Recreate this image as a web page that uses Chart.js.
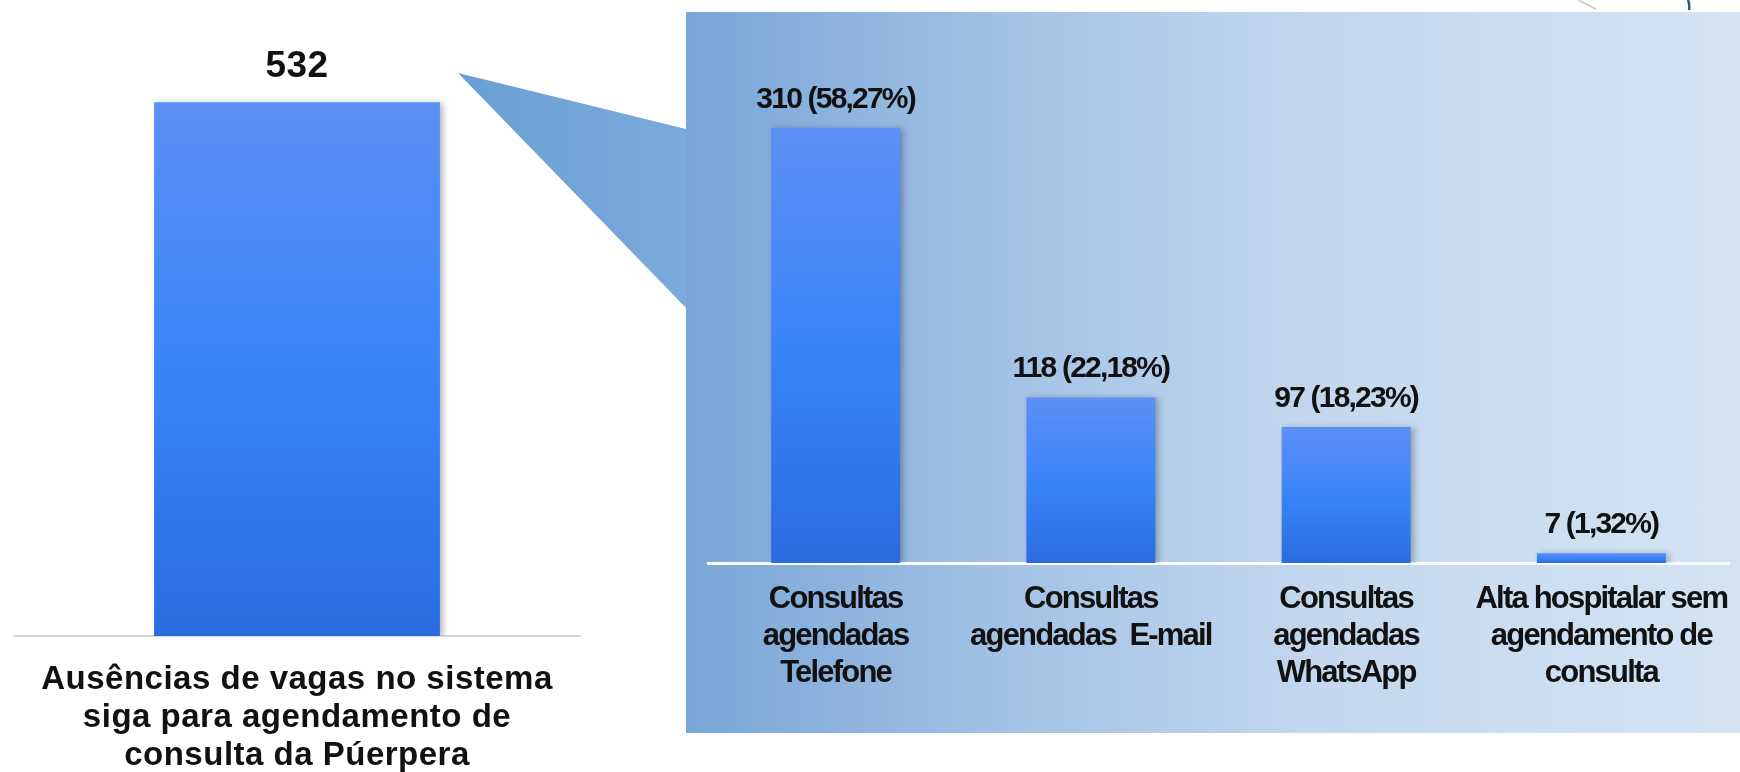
<!DOCTYPE html>
<html>
<head>
<meta charset="utf-8">
<script src="https://cdn.jsdelivr.net/npm/chart.js@4/dist/chart.umd.min.js"></script>
<style>
  html, body { margin: 0; padding: 0; background: #fff; }
  #wrap { position: relative; width: 1740px; height: 772px; overflow: hidden; }
  #panel {
    position: absolute; left: 686px; top: 12px; width: 1054px; height: 721px;
    background: linear-gradient(to right, #79a6d7 0%, #a6c4e6 33%, #c3d8ee 60%, #d3e3f4 100%);
  }
  #callout {
    position: absolute; left: 0; top: 0; width: 1740px; height: 772px;
    background: linear-gradient(to right, #6b9fd4 0%, #6b9fd4 460px, #7caad9 690px);
    clip-path: polygon(458px 73px, 690px 130px, 690px 312px);
  }
  canvas { position: absolute; left: 0; top: 0; }
  #deco { position: absolute; left: 0; top: 0; }
</style>
</head>
<body>
<div id="wrap">
  <div id="callout"></div>
  <div id="panel"></div>
  <svg id="deco" width="1740" height="20">
    <line x1="1578" y1="0" x2="1596" y2="9" stroke="#c8c8c8" stroke-width="1.5"/>
    <path d="M1688 0 Q1690 5 1689 10" stroke="#1f5f73" stroke-width="2.5" fill="none"/>
  </svg>
  <canvas id="leftChart" width="1740" height="772"></canvas>
  <canvas id="rightChart" width="1740" height="772"></canvas>
</div>
<script>
// left bar: total
var totalLabels = [["Ausências de vagas no sistema", "siga para agendamento de", "consulta da Púerpera"]];
var totalValues = [532];

// right bars: breakdown
var breakLabels = [
    ["Consultas", "agendadas", "Telefone"],
    ["Consultas", "agendadas  E-mail"],
    ["Consultas", "agendadas", "WhatsApp"],
    ["Alta hospitalar sem", "agendamento de", "consulta"],
];
var breakValues = [310, 118, 97, 7];
var breakPercents = ["58,27%", "22,18%", "18,23%", "1,32%"];

var fontFamily = "'Liberation Sans', Arial, sans-serif";

// blue gradient per bar, light on top
function barFill(c) {
    var chart = c.chart;
    if (!chart.chartArea) return "#3d84f7";
    var y = chart.scales.y;
    var top = y.getPixelForValue(c.raw);
    var bottom = y.getPixelForValue(0);
    var g = chart.ctx.createLinearGradient(0, top, 0, bottom);
    g.addColorStop(0, "#5c90f4");
    g.addColorStop(0.5, "#3a84fa");
    g.addColorStop(1, "#2a6ce0");
    return g;
}

var barShadow = {
    id: "barShadow",
    beforeDatasetDraw: function (chart) {
        var ctx = chart.ctx;
        ctx.save();
        ctx.shadowColor = "rgba(0,0,0,0.28)";
        ctx.shadowBlur = 6;
        ctx.shadowOffsetX = 3;
        ctx.shadowOffsetY = 1;
    },
    afterDatasetDraw: function (chart) {
        chart.ctx.restore();
    },
};

// no narrow font installed, so squeeze/stretch the text a bit instead
function spacing(ls) {
    return {
        id: "spacing",
        beforeLayout: function (chart) { chart.ctx.letterSpacing = ls; },
        beforeDraw: function (chart) { chart.ctx.letterSpacing = ls; },
    };
}

function valueLabels(textFor, font, gap) {
    return {
        id: "valueLabels",
        afterDatasetsDraw: function (chart) {
            var ctx = chart.ctx;
            var meta = chart.getDatasetMeta(0);
            ctx.save();
            ctx.font = font;
            ctx.fillStyle = "#111";
            ctx.textAlign = "center";
            ctx.textBaseline = "alphabetic";
            meta.data.forEach(function (bar, i) {
                ctx.fillText(textFor(i), bar.x, bar.y - gap);
            });
            ctx.restore();
        },
    };
}

function makeChart(id, labels, values, yMax, pad, axisH, tickFont, tickPad, border, plugins) {
    return new Chart(document.getElementById(id).getContext("2d"), {
        type: "bar",
        data: {
            labels: labels,
            datasets: [
                {
                    data: values,
                    backgroundColor: barFill,
                    borderWidth: 0,
                    categoryPercentage: 1,
                    barPercentage: 0.505,
                },
            ],
        },
        options: {
            responsive: false,
            animation: false,
            layout: { padding: pad },
            plugins: { legend: { display: false }, tooltip: { enabled: false } },
            scales: {
                x: {
                    grid: { display: false, drawTicks: false },
                    border: border,
                    ticks: {
                        color: "#111",
                        font: tickFont,
                        padding: tickPad,
                        maxRotation: 0,
                        autoSkip: false,
                    },
                    afterFit: function (axis) {
                        axis.height = axisH;
                        // labels may overhang the area a little, like the original
                        axis.paddingLeft = 0;
                        axis.paddingRight = 0;
                    },
                },
                y: { display: false, min: 0, max: yMax },
            },
        },
        plugins: [barShadow].concat(plugins),
    });
}

makeChart(
    "leftChart", totalLabels, totalValues, 600,
    { left: 14, right: 1160, top: 34, bottom: 0 }, 136,
    { family: fontFamily, size: 33, weight: "bold", lineHeight: 1.15 }, 25,
    { display: true, color: "#d6d6d6", width: 2 },
    [spacing("0.5px"), valueLabels(function (i) { return String(totalValues[i]); }, "bold 37px " + fontFamily, 25)]
);

makeChart(
    "rightChart", breakLabels, breakValues, 350,
    { left: 708, right: 11, top: 72, bottom: 59 }, 150,
    { family: fontFamily, size: 31, weight: "bold", lineHeight: 1.19 }, 18,
    { display: true, color: "#fbfdff", width: 3 },
    [spacing("-1.8px"), valueLabels(function (i) { return breakValues[i] + " (" + breakPercents[i] + ")"; }, "bold 30px " + fontFamily, 20)]
);
</script>
</body>
</html>
